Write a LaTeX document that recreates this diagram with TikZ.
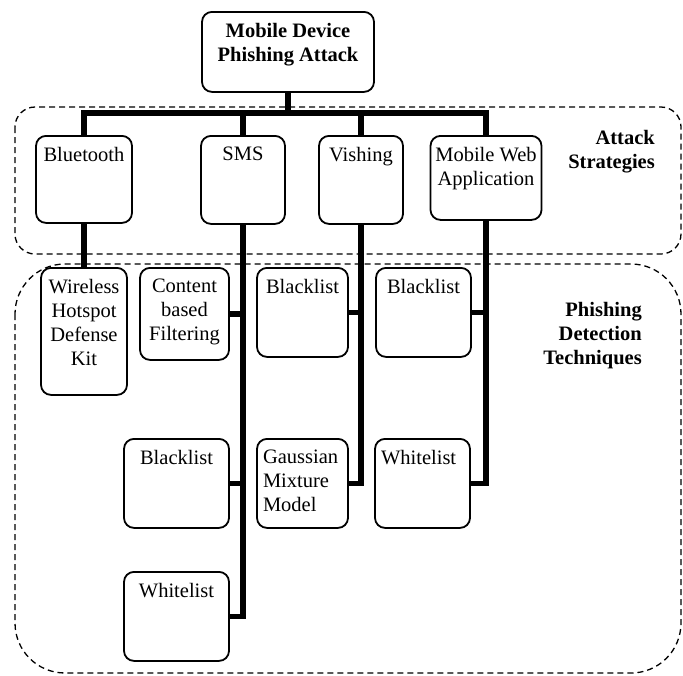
\documentclass[tikz,border=0pt]{standalone}
\usepackage{fontspec}
\setmainfont{Liberation Serif}
\usetikzlibrary{positioning}
\newcommand{\diafont}{\fontsize{20.5}{24}\selectfont}
\newcommand{\boxtext}[4][\centering]{\parbox[c][#3][t]{#2}{#1#4}}
\tikzset{phbox/.style = {draw, line width=1.8pt, rounded corners=10pt, anchor=north,
                         inner xsep=3pt, inner ysep=11.5pt},
         leftbox/.style = {phbox, inner xsep=6pt},
         link/.style = {line width=5.5pt},
         zone/.style = {draw, dash pattern=on 6pt off 4pt, line width=1.3pt},
         tag/.style = {font=\diafont\bfseries, align=right, anchor=north east, inner sep=0pt}}

\begin{document}
\begin{tikzpicture}[x=1pt, y=-1pt, font=\diafont]
    \useasboundingbox (0, 0) rectangle (683, 675);

    \node [phbox] (top) at (288, 11) {\boxtext{166pt}{57pt}{\bfseries Mobile Device\\Phishing Attack}};

    \node [phbox] (bt) at (84, 135) {\boxtext{90pt}{64pt}{Bluetooth}};
    \node [phbox] (sms) at (243, 135) {\boxtext{78pt}{65pt}{SMS}};
    \node [phbox] (vish) at (361, 135) {\boxtext{78pt}{65pt}{Vishing}};
    \node [phbox] (mweb) at (486, 135) {\boxtext{105pt}{61pt}{Mobile Web\\Application}};

    \node [phbox] (kit) at (84, 267) {\boxtext{80pt}{104pt}{Wireless\\Hotspot\\Defense\\Kit}};
    \node [phbox] (content) at (184.5, 267) {\boxtext{83pt}{69pt}{Content\\based\\Filtering}};
    \node [phbox] (smsblack) at (176.5, 438) {\boxtext{99pt}{66pt}{Blacklist}};
    \node [phbox] (smswhite) at (176.5, 571) {\boxtext{99pt}{66pt}{Whitelist}};
    \node [phbox] (vishblack) at (302.5, 267) {\boxtext{85pt}{66pt}{Blacklist}};
    \node [leftbox] (gmm) at (302.5, 438) {\boxtext[\raggedright]{79pt}{66pt}{Gaussian\\Mixture\\Model}};
    \node [phbox] (webblack) at (423.5, 267) {\boxtext{89pt}{66pt}{Blacklist}};
    \node [leftbox] (webwhite) at (422.5, 438) {\boxtext[\raggedright]{83pt}{66pt}{Whitelist}};

    \coordinate (bar) at (288, 113);
    \draw [link] (top.south) -- (bar);
    \draw [link] (bt.north) |- (bar) -| (mweb.north);
    \draw [link] (sms.north) -- (sms.north |- bar);
    \draw [link] (vish.north) -- (vish.north |- bar);

    \draw [link] (bt.south) -- (kit.north);
    \draw [link] (sms.south) |- (smswhite.east);
    \draw [link] (content.east) -- (content.east -| sms.south);
    \draw [link] (smsblack.east) -- (smsblack.east -| sms.south);
    \draw [link] (vish.south) |- (gmm.east);
    \draw [link] (vishblack.east) -- (vishblack.east -| vish.south);
    \draw [link] (mweb.south) |- (webwhite.east);
    \draw [link] (webblack.east) -- (webblack.east -| mweb.south);

    \draw [zone, rounded corners=20pt] (15, 107) rectangle (681, 254);
    \draw [zone, rounded corners=50pt] (15, 264) rectangle (681, 673);

    \node [tag] (strat) at (655, 130) {Attack\\Strategies};
    \node [tag] (detect) at (642, 302) {Phishing\\Detection\\Techniques};
\end{tikzpicture}
\end{document}
